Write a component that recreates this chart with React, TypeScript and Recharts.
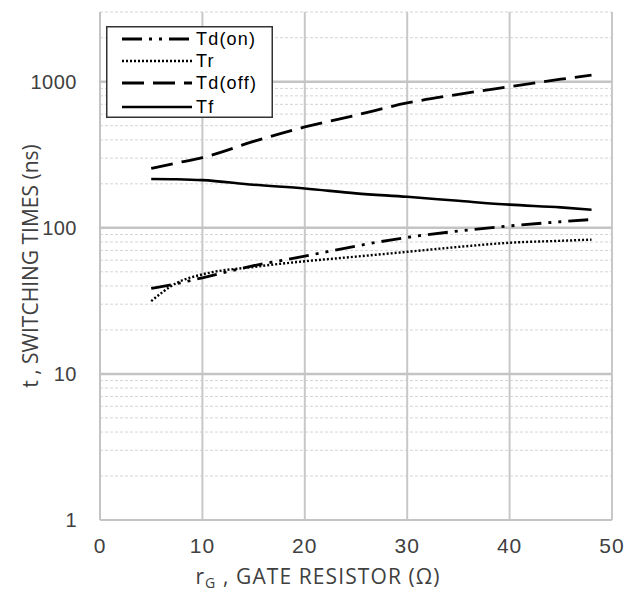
import React from "react";
import { LineChart, Line, XAxis, YAxis, ReferenceLine } from "recharts";

const xValues = [5, 7.5, 10, 15, 20, 25, 30, 35, 40, 45, 48];
const tdOn = [38.5, 41.5, 45.5, 55, 64, 75, 86, 95, 103, 110, 114];
const tr = [31.5, 42, 48, 54, 59, 63.5, 68.5, 74, 79, 81.5, 83];
const tdOff = [255, 278, 302, 390, 490, 590, 715, 820, 925, 1040, 1110];
const tf = [216, 215, 212, 197, 186, 172, 163, 153, 144, 138, 133];

const xTicks = [0, 10, 20, 30, 40, 50];
const yTicks = [1, 10, 100, 1000];
const majorY = [10, 100, 1000];
const minorY = [2, 3, 4, 5, 6, 7, 8, 9, 20, 30, 40, 50, 60, 70, 80, 90, 200, 300, 400, 500, 600, 700, 800, 900, 2000, 3000];
const verticalX = [10, 20, 30, 40, 50];

const seriesNames = ["Td(on)", "Tr", "Td(off)", "Tf"];
const seriesKeys = ["tdOn", "tr", "tdOff", "tf"];
const seriesDash = ["20 7 3 7 3 7", "2 2", "22 9", ""];
const seriesWidth = [2.8, 2.4, 2.8, 2.6];

const data = xValues.map((x, i) => ({ x, tdOn: tdOn[i], tr: tr[i], tdOff: tdOff[i], tf: tf[i] }));

const LegendBox = () => (
  <svg width={167} height={92} style={{ display: "block", position: "absolute", left: 98, top: 18 }}>
    <rect x={0.75} y={0.75} width={165.5} height={90.5} fill="#fff" stroke="#333" strokeWidth={1.5} />
    {seriesNames.map((n, i) => {
      const y = [13, 35, 57, 81][i];
      return (
        <g key={n}>
          <line x1={16} x2={86} y1={y} y2={y} stroke="#000" strokeWidth={seriesWidth[i]} strokeDasharray={seriesDash[i] || undefined} />
          <text x={90} y={y + 6} fontFamily="Liberation Sans, Arial, sans-serif" fontSize={18} letterSpacing={1.2} fill="#000">{n}</text>
        </g>
      );
    })}
  </svg>
);

export default function App() {
  return (
    <div style={{ width: 630, height: 588, position: "relative" }}>
      <LineChart width={630} height={588} data={data} margin={{ top: 4, right: 26, left: 0, bottom: 0 }}>
        {minorY.map((v) => (
          <ReferenceLine key={"m" + v} y={v} stroke="#d4d4d4" strokeWidth={1} strokeDasharray="3 2" />
        ))}
        {verticalX.map((v) => (
          <ReferenceLine key={"v" + v} x={v} stroke="#c8c8c8" strokeWidth={2} />
        ))}
        {majorY.map((v) => (
          <ReferenceLine key={"M" + v} y={v} stroke="#c4c4c4" strokeWidth={2.5} />
        ))}
        <XAxis
          type="number"
          dataKey="x"
          domain={[0, 50]}
          ticks={xTicks}
          height={76}
          tickLine={false}
          tickSize={0}
          tickMargin={18}
          axisLine={{ stroke: "#c4c4c4", strokeWidth: 2 }}
          tick={{ fontFamily: "Liberation Sans, Arial, sans-serif", fontSize: 21, letterSpacing: 1, fill: "#404040" }}
          label={({ viewBox }: any) => {
            const cx = viewBox.x + viewBox.width / 2 - 38;
            return (
              <text x={cx} y={viewBox.y + 64} textAnchor="middle" fontFamily="Open Sans, sans-serif" fontSize={21} letterSpacing={1.1} fill="#404040">
                r<tspan fontSize={14} dy={4}>G</tspan>
                <tspan dy={-4}> , GATE RESISTOR (Ω)</tspan>
              </text>
            );
          }}
        />
        <YAxis
          scale="log"
          domain={[1, 3000]}
          ticks={yTicks}
          allowDataOverflow
          width={92}
          tickLine={false}
          tickSize={0}
          tickMargin={23}
          axisLine={{ stroke: "#c4c4c4", strokeWidth: 2 }}
          tick={{ fontFamily: "Liberation Sans, Arial, sans-serif", fontSize: 20, letterSpacing: 0.5, fill: "#404040" }}
          label={({ viewBox }: any) => {
            const cy = viewBox.y + viewBox.height / 2;
            return (
              <text x={22} y={cy} textAnchor="middle" dominantBaseline="central" transform={`rotate(-90, 22, ${cy})`} fontFamily="Open Sans, sans-serif" fontSize={21} fill="#404040">
                t , SWITCHING TIMES (ns)
              </text>
            );
          }}
        />
        {seriesKeys.map((k, i) => (
          <Line
            key={k}
            dataKey={k}
            name={seriesNames[i]}
            type="monotone"
            stroke="#000"
            strokeWidth={seriesWidth[i]}
            strokeDasharray={seriesDash[i] || undefined}
            dot={false}
            activeDot={false}
            isAnimationActive={false}
          />
        ))}
      </LineChart>
      <LegendBox />
    </div>
  );
}
